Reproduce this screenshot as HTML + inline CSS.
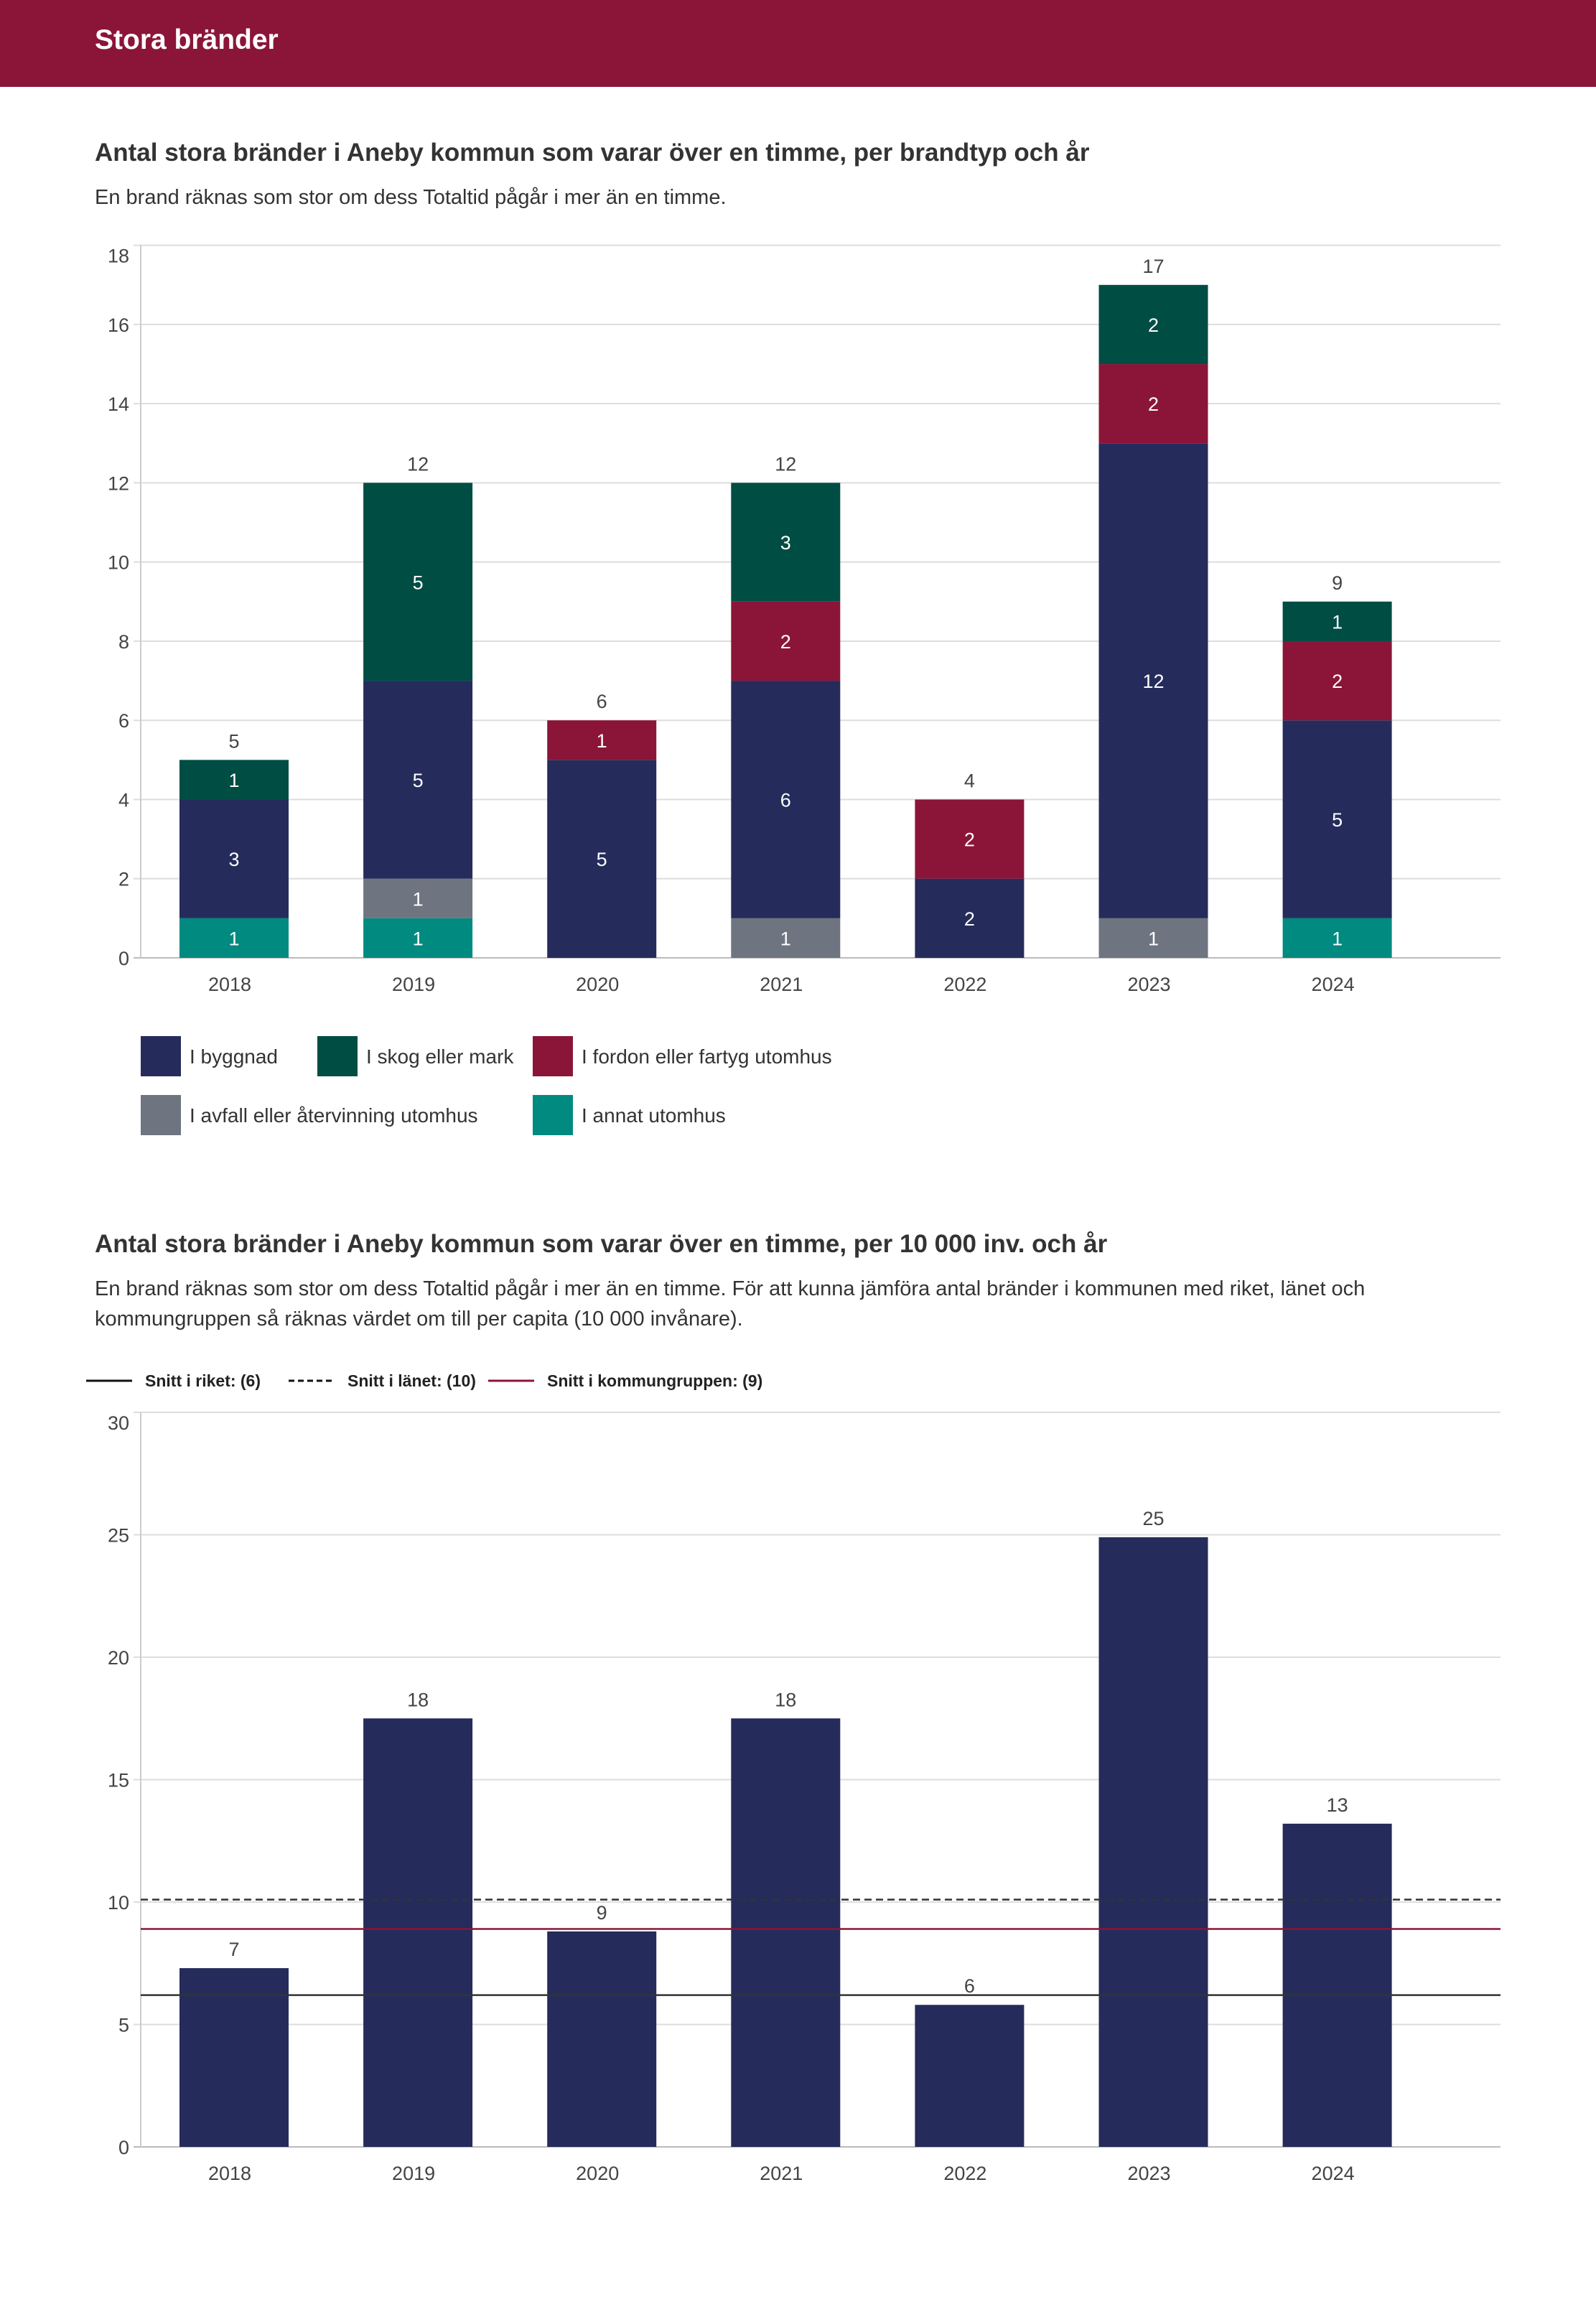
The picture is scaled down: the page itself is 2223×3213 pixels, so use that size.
<!DOCTYPE html>
<html><head><meta charset="utf-8"><style>
body{margin:0;width:2223px;height:3213px;background:#fff;font-family:"Liberation Sans",sans-serif;position:relative;overflow:hidden}
.hdr{position:absolute;left:0;top:0;width:2223px;height:121px;background:#8b1538}
.hdr span{position:absolute;left:132px;top:34px;color:#fff;font-size:39px;font-weight:bold}
.t{position:absolute;left:132px;color:#333;font-weight:bold;font-size:35px}
.s{position:absolute;left:132px;color:#333;font-size:29px;line-height:42px}
svg{position:absolute;left:0;top:0}
svg text{font-family:"Liberation Sans",sans-serif}
</style></head><body>
<div class="hdr"><span>Stora bränder</span></div>
<div class="t" style="top:193px">Antal stora bränder i Aneby kommun som varar över en timme, per brandtyp och år</div>
<div class="s" style="top:254px">En brand räknas som stor om dess Totaltid pågår i mer än en timme.</div>
<div class="t" style="top:1713px">Antal stora bränder i Aneby kommun som varar över en timme, per 10 000 inv. och år</div>
<div class="s" style="top:1774px;width:1980px">En brand räknas som stor om dess Totaltid pågår i mer än en timme. För att kunna jämföra antal bränder i kommunen med riket, länet och kommungruppen så räknas värdet om till per capita (10 000 invånare).</div>
<svg id="c" width="2223" height="3213"></svg>
<script>
const years=["2018","2019","2020","2021","2022","2023","2024"];
const sAnnat=[1,1,0,0,0,0,1];
const sAvfall=[0,1,0,1,0,1,0];
const sByggnad=[3,5,5,6,2,12,5];
const sFordon=[0,0,1,2,2,2,2];
const sSkog=[1,5,0,3,0,2,1];
const ticks1=[0,2,4,6,8,10,12,14,16,18];
const perCap=[7.3,17.5,8.8,17.5,5.8,24.9,13.2];
const perCapLabels=["7","18","9","18","6","25","13"];
const ticks2=[0,5,10,15,20,25,30];
const avgRiket=6.2, avgLan=10.1, avgGrupp=8.9;

const svg=document.getElementById('c');const NS='http://www.w3.org/2000/svg';
function el(t,a,txt){const e=document.createElementNS(NS,t);for(const k in a)e.setAttribute(k,a[k]);if(txt!==undefined)e.textContent=txt;svg.appendChild(e);return e;}
const X0=196,X1=2090;
const xc=i=>326+256.1*i;const BW=152;
const y1=v=>1334-v*55.13;
const y2=v=>2990-v*34.1;

ticks1.forEach((t,k)=>{const g=el('line',{x1:186,x2:X1,y1:y1(t),y2:y1(t),stroke:t?'#ddd':'#bbb','stroke-width':2});

const l=el('text',{x:180,y:y1(t)+(k==ticks1.length-1?24:10),'text-anchor':'end','font-size':27,fill:'#444'},t);
});
el('line',{x1:X0,x2:X0,y1:y1(18),y2:y1(0),stroke:'#ccc','stroke-width':2});
const series=[[sAnnat,'#008a80','annat'],[sAvfall,'#6e7580','avfall'],[sByggnad,'#252c5c','byggnad'],[sFordon,'#8b1538','fordon'],[sSkog,'#004d44','skog']];
years.forEach((yr,i)=>{let acc=0;
series.forEach(([arr,col,nm])=>{const v=arr[i];if(!v)return;
const r=el('rect',{x:xc(i)-BW/2,y:y1(acc+v),width:BW,height:y1(acc)-y1(acc+v),fill:col});

const t=el('text',{x:xc(i),y:(y1(acc)+y1(acc+v))/2+10,'text-anchor':'middle','font-size':27,fill:'#fff'},v);

acc+=v;});
const tt=el('text',{x:xc(i),y:y1(acc)-17,'text-anchor':'middle','font-size':27,fill:'#444'},acc);

const xl=el('text',{x:xc(i)-6,y:1380,'text-anchor':'middle','font-size':27,fill:'#444'},yr);
});
[[196,1443,'#252c5c','I byggnad'],[442,1443,'#004d44','I skog eller mark'],[742,1443,'#8b1538','I fordon eller fartyg utomhus'],[196,1525,'#6e7580','I avfall eller återvinning utomhus'],[742,1525,'#008a80','I annat utomhus']].forEach(([x,y,c,l])=>{
const r=el('rect',{x:x,y:y,width:56,height:56,fill:c});
const t=el('text',{x:x+68,y:y+38,'font-size':28,fill:'#333'},l);});

[[120,'#111','','Snitt i riket: (6)'],[402,'#111','8,5','Snitt i länet: (10)'],[680,'#8b1538','','Snitt i kommungruppen: (9)']].forEach(([x,c,d,l],k)=>{
const ln=el('line',{x1:x,x2:x+64,y1:1923,y2:1923,stroke:c,'stroke-width':3,'stroke-dasharray':d});
const t=el('text',{x:x+82,y:1931,'font-size':23,'font-weight':'bold',fill:'#222'},l);});
ticks2.forEach((t,k)=>{const g=el('line',{x1:186,x2:X1,y1:y2(t),y2:y2(t),stroke:t?'#ddd':'#bbb','stroke-width':2});

const l=el('text',{x:180,y:y2(t)+(k==ticks2.length-1?24:10),'text-anchor':'end','font-size':27,fill:'#444'},t);
});
el('line',{x1:X0,x2:X0,y1:y2(30),y2:y2(0),stroke:'#ccc','stroke-width':2});
perCap.forEach((v,i)=>{const r=el('rect',{x:xc(i)-BW/2,y:y2(v),width:BW,height:y2(0)-y2(v),fill:'#252c5c'});

const t=el('text',{x:xc(i),y:y2(v)-17,'text-anchor':'middle','font-size':27,fill:'#444'},perCapLabels[i]);

const xl=el('text',{x:xc(i)-6,y:3036,'text-anchor':'middle','font-size':27,fill:'#444'},years[i]);
});
[[avgRiket,'#333',''],[avgLan,'#333','10,6'],[avgGrupp,'#8b1538','']].forEach(([v,c,d])=>{
const l=el('line',{x1:X0,x2:X1,y1:y2(v),y2:y2(v),stroke:c,'stroke-width':2.5,'stroke-dasharray':d});
});
</script>
</body></html>
